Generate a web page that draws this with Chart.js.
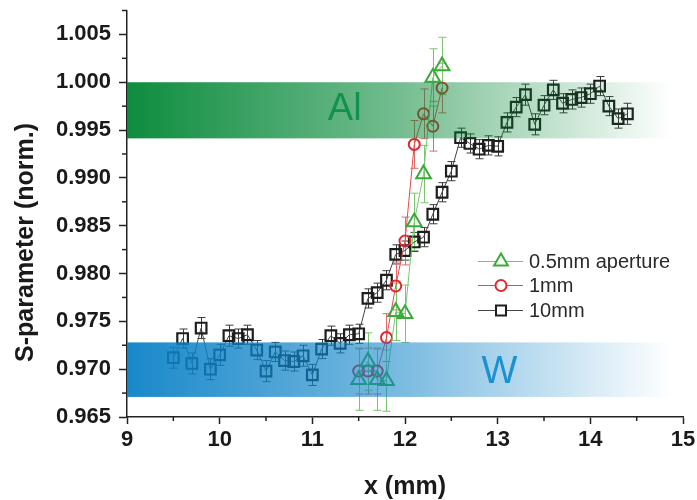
<!DOCTYPE html>
<html><head><meta charset="utf-8">
<script src="https://cdn.jsdelivr.net/npm/chart.js@4"></script>
<style>html,body{margin:0;padding:0;background:#fff}#wrap{width:697px;height:500px}</style>
</head><body><div id="wrap"><canvas id="c" width="697" height="500"></canvas></div>
<script>
// ---- data ----
const xTickValues = [9, 10, 11, 12, 13, 14, 15];
const yTickValues = [0.965, 0.970, 0.975, 0.980, 0.985, 0.990, 0.995, 1.000, 1.005];

const x10mm = [9.5,9.6,9.7,9.8,9.9,10.0,10.1,10.2,10.3,10.4,10.5,10.6,10.7,10.8,10.9,11.0,11.1,11.2,11.3,11.4,
  11.5,11.6,11.7,11.8,11.9,12.0,12.1,12.2,12.3,12.4,12.5,12.6,12.7,12.8,12.9,13.0,13.1,13.2,13.3,13.4,
  13.5,13.6,13.7,13.8,13.9,14.0,14.1,14.2,14.3,14.4];
const s10mm = [0.9712,0.9732,0.9706,0.9743,0.9700,0.9715,0.9735,0.9732,0.9736,0.9720,0.9698,0.9718,0.9709,0.9708,0.9714,0.9694,0.9721,0.9735,0.9727,0.9736,
  0.9737,0.9774,0.9780,0.9793,0.9820,0.9824,0.9833,0.9838,0.9862,0.9885,0.9907,0.9942,0.9936,0.9930,0.9934,0.9933,0.9958,0.9974,0.9987,0.9956,
  0.9976,0.9992,0.9978,0.9982,0.9984,0.9988,0.9996,0.9975,0.9962,0.9967];
const e10mm = [0.0011,0.0010,0.0011,0.0011,0.0011,0.0011,0.0011,0.0010,0.0010,0.0010,0.0011,0.0010,0.0010,0.0010,0.0011,0.0011,0.0010,0.0010,0.0010,0.0010,
  0.0010,0.0010,0.0010,0.0010,0.0010,0.0010,0.0010,0.0010,0.0010,0.0010,0.0010,0.0010,0.0010,0.0010,0.0010,0.0010,0.0010,0.0010,0.0011,0.0011,
  0.0010,0.0010,0.0010,0.0010,0.0010,0.0010,0.0010,0.0010,0.0010,0.0011];

const x1mm = [11.5,11.6,11.7,11.8,11.9,12.0,12.1,12.2,12.3,12.4];
const s1mm = [0.9698,0.9698,0.9698,0.9733,0.9787,0.9834,0.9935,0.9967,0.9954,0.9994];
const e1mm = [0.0024,0.0024,0.0024,0.0025,0.0025,0.0025,0.0025,0.0026,0.0026,0.0026];

const x05mm = [11.5,11.6,11.7,11.8,11.9,12.0,12.1,12.2,12.3,12.4];
const s05mm = [0.9689,0.9708,0.9689,0.9688,0.9760,0.9758,0.9854,0.9904,1.0005,1.0017];
const e05mm = [0.0032,0.0030,0.0032,0.0032,0.0030,0.0030,0.0030,0.0030,0.0030,0.0030];

const seriesNames = ['0.5mm aperture', '1mm', '10mm'];
const bandAl = [0.99413, 1.0000];
const bandW = [0.9671, 0.9728];
const bandX = [9, 14.88];
const labelAl = {text: 'Al', x: 11.35, y: 0.9972};
const labelW = {text: 'W', x: 13.02, y: 0.9697};
const yTitle = {text: 'S-parameter (norm.)', y: 0.98325};

// ---- styling ----
const FONT = "'Liberation Sans', Arial, sans-serif";
const C_GREEN = '#3aab3a', C_RED = '#e2282c', C_BLACK = '#1e1e1e';

function pts(xs, ys){ return xs.map((x,i)=>({x, y: ys[i]})); }

function drawBand(ctx, x0, x1, ya, yb, rgb){
  const g = ctx.createLinearGradient(x0, 0, x1, 0);
  g.addColorStop(0, `rgba(${rgb},0.95)`);
  g.addColorStop(0.5, `rgba(${rgb},0.55)`);
  g.addColorStop(0.8, `rgba(${rgb},0.22)`);
  g.addColorStop(1, `rgba(${rgb},0)`);
  ctx.fillStyle = g;
  ctx.fillRect(x0, ya, x1 - x0, yb - ya);
}

const decor = {
  id: 'decor',
  beforeDatasetsDraw(chart){
    const {ctx, scales:{x, y}} = chart;
    for (let d = chart.data.datasets.length - 1; d >= 0; d--){
      const ds = chart.data.datasets[d];
      ctx.save();
      ctx.strokeStyle = ds.errColor; ctx.lineWidth = 1;
      ds.data.forEach((p, i)=>{
        const e = ds.errors[i];
        const px = Math.round(x.getPixelForValue(p.x)) + 0.5;
        const y1 = y.getPixelForValue(p.y + e), y2 = y.getPixelForValue(p.y - e);
        ctx.beginPath();
        ctx.moveTo(px, y1); ctx.lineTo(px, y2);
        ctx.moveTo(px - 4, y1); ctx.lineTo(px + 4, y1);
        ctx.moveTo(px - 4, y2); ctx.lineTo(px + 4, y2);
        ctx.stroke();
      });
      ctx.restore();
    }
  },
  afterDatasetsDraw(chart){
    const {ctx, scales:{x, y}} = chart;
    const x0 = x.getPixelForValue(bandX[0]), x1 = x.getPixelForValue(bandX[1]);
    ctx.save();
    drawBand(ctx, x0, x1, y.getPixelForValue(bandAl[1]), y.getPixelForValue(bandAl[0]), '0,134,52');
    drawBand(ctx, x0, x1, y.getPixelForValue(bandW[1]), y.getPixelForValue(bandW[0]), '12,130,199');
    ctx.font = '38px ' + FONT;
    ctx.textAlign = 'center'; ctx.textBaseline = 'middle';
    ctx.fillStyle = '#11924a';
    ctx.fillText(labelAl.text, x.getPixelForValue(labelAl.x), y.getPixelForValue(labelAl.y));
    ctx.fillStyle = '#1b91d2';
    ctx.fillText(labelW.text, x.getPixelForValue(labelW.x), y.getPixelForValue(labelW.y));
    ctx.restore();
  },
  afterDraw(chart){
    const {ctx, scales:{x, y}} = chart;
    ctx.save();
    ctx.strokeStyle = '#222'; ctx.lineWidth = 1.5;
    for (let i = 0; i < xTickValues.length - 1; i++){
      const v = (xTickValues[i] + xTickValues[i+1]) / 2;
      const px = x.getPixelForValue(v);
      ctx.beginPath(); ctx.moveTo(px, y.bottom); ctx.lineTo(px, y.bottom + 4); ctx.stroke();
    }
    yTickValues.map(v => v + 0.0025).forEach(v => {
      const py = y.getPixelForValue(v);
      ctx.beginPath(); ctx.moveTo(x.left, py); ctx.lineTo(x.left - 5, py); ctx.stroke();
    });
    // y axis title
    ctx.translate(26, y.getPixelForValue(yTitle.y));
    ctx.rotate(-Math.PI / 2);
    ctx.fillStyle = '#1a1a1a';
    ctx.font = 'bold 25px ' + FONT;
    ctx.textAlign = 'center'; ctx.textBaseline = 'middle';
    ctx.fillText(yTitle.text, 0, 0);
    ctx.restore();
    // legend
    const rows = [261.5, 285.5, 310.5];
    const lx0 = 478, lx1 = 523, mx = 501;
    ctx.save();
    chart.data.datasets.forEach((ds, i) => {
      const ry = rows[i];
      ctx.strokeStyle = ds.borderColor; ctx.lineWidth = 1;
      ctx.beginPath(); ctx.moveTo(lx0, ry); ctx.lineTo(lx1, ry); ctx.stroke();
      ctx.fillStyle = '#fff';
      ctx.strokeStyle = ds.pointBorderColor; ctx.lineWidth = 2;
      const r = ds.legendRadius;
      ctx.beginPath();
      if (ds.pointStyle === 'triangle'){
        ctx.moveTo(mx, ry - r);
        ctx.lineTo(mx + r * 0.866, ry + r / 2);
        ctx.lineTo(mx - r * 0.866, ry + r / 2);
        ctx.closePath();
      } else if (ds.pointStyle === 'circle'){
        ctx.arc(mx, ry, r, 0, Math.PI * 2);
      } else {
        ctx.rect(mx - r, ry - r, 2 * r, 2 * r);
      }
      ctx.fill(); ctx.stroke();
      ctx.fillStyle = '#2a2a2a';
      ctx.font = '20px ' + FONT;
      ctx.textAlign = 'left'; ctx.textBaseline = 'middle';
      ctx.fillText(ds.label, 529, ry + 1);
    });
    ctx.restore();
  }
};

new Chart(document.getElementById('c'), {
  type: 'scatter',
  data: {
    datasets: [
      { label: seriesNames[0], data: pts(x05mm, s05mm), errors: e05mm, errColor: '#7cc46f',
        showLine: true, borderColor: '#78c474', borderWidth: 1,
        pointStyle: 'triangle', pointRadius: 8.5, pointBorderWidth: 2, pointBorderColor: C_GREEN,
        pointBackgroundColor: 'rgba(255,255,255,0)', legendRadius: 8 },
      { label: seriesNames[1], data: pts(x1mm, s1mm), errors: e1mm, errColor: '#e06a6a',
        showLine: true, borderColor: '#e04a4a', borderWidth: 1,
        pointStyle: 'circle', pointRadius: 5.5, pointBorderWidth: 2, pointBorderColor: C_RED,
        pointBackgroundColor: 'rgba(255,255,255,0)', legendRadius: 5.5 },
      { label: seriesNames[2], data: pts(x10mm, s10mm), errors: e10mm, errColor: '#3a3a3a',
        showLine: true, borderColor: '#444', borderWidth: 1,
        pointStyle: 'rect', pointRadius: 7.5, pointBorderWidth: 2.2, pointBorderColor: C_BLACK,
        pointBackgroundColor: 'rgba(255,255,255,0)', legendRadius: 5 }
    ]
  },
  options: {
    responsive: false, animation: false,
    layout: { padding: { top: 5, right: 14, left: 0, bottom: 0 } },
    plugins: { legend: { display: false }, tooltip: { enabled: false } },
    elements: { point: { hoverRadius: 0 } },
    scales: {
      x: {
        type: 'linear', min: 9, max: 15,
        afterBuildTicks: s => { s.ticks = xTickValues.map(v => ({value: v})); },
        afterFit: s => { s.height = 83; s.paddingLeft = 0; s.paddingRight = 0; },
        grid: { drawOnChartArea: false, tickLength: 7, tickColor: '#222', tickWidth: 1.5 },
        border: { color: '#222', width: 1.5 },
        ticks: { color: '#1a1a1a', font: { family: FONT, size: 22, weight: 'bold' }, padding: 3,
                 callback: v => String(v) },
        title: { display: true, text: 'x (mm)', color: '#1a1a1a',
                 font: { family: FONT, size: 25, weight: 'bold', lineHeight: 1 }, padding: { top: 0, bottom: 0 } }
      },
      y: {
        type: 'linear', min: 0.965, max: 1.0075,
        afterBuildTicks: s => { s.ticks = yTickValues.map(v => ({value: v})); },
        afterFit: s => { s.width = 127; s.paddingTop = 0; s.paddingBottom = 0; },
        grid: { drawOnChartArea: false, tickLength: 8, tickColor: '#222', tickWidth: 1.5 },
        border: { color: '#222', width: 1.5 },
        ticks: { color: '#1a1a1a', font: { family: FONT, size: 22, weight: 'bold' }, padding: 8,
                 callback: v => Number(v).toFixed(3) },
        title: { display: false }
      }
    }
  },
  plugins: [decor]
});
</script>
</body></html>
